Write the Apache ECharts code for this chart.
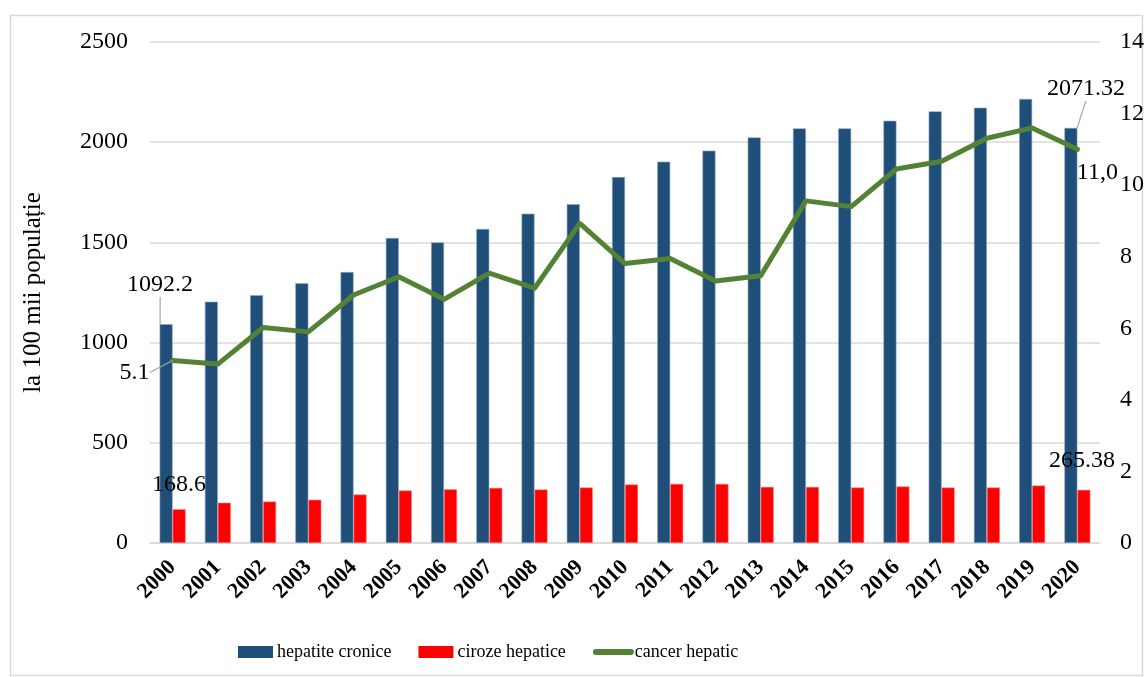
<!DOCTYPE html>
<html>
<head>
<meta charset="utf-8">
<style>
  html, body { margin: 0; padding: 0; background: #ffffff; }
  #chart { width: 1148px; height: 677px; }
</style>
<script src="https://cdn.jsdelivr.net/npm/echarts@6/dist/echarts.min.js"></script>
</head>
<body>
<div id="chart"></div>
<script>
// Years on the category axis
const years = ['2000','2001','2002','2003','2004','2005','2006','2007','2008','2009','2010',
               '2011','2012','2013','2014','2015','2016','2017','2018','2019','2020'];

// Chronic hepatitis, per 100 thousand population (left axis)
const hepatiteCronice = [1092.2, 1204, 1237, 1296, 1352, 1522, 1500, 1567, 1643, 1690, 1826,
                         1903, 1958, 2024, 2069, 2069, 2107, 2154, 2172, 2216, 2071.32];

// Liver cirrhosis, per 100 thousand population (left axis)
const cirozeHepatice = [168.6, 201, 207, 216, 242, 262, 268, 275, 267, 277, 292,
                        295, 295, 280, 280, 277, 282, 277, 277, 287, 265.38];

// Liver cancer (right axis)
const cancerHepatic = [5.1, 5.0, 6.02, 5.9, 6.93, 7.44, 6.81, 7.54, 7.12, 8.93, 7.81,
                       7.95, 7.32, 7.47, 9.56, 9.40, 10.45, 10.67, 11.31, 11.60, 11.0];

// Axis ranges
const leftAxis = { min: 0, max: 2500, interval: 500 };
const rightAxis = { min: 0, max: 14, interval: 2 };

const FONT = '"Liberation Serif", "DejaVu Serif", serif';
const LABEL_FONT = 24;
const last = years.length - 1;

// Only the first and last point of each series carry a value label
function withEndLabels(values, firstLabel, lastLabel, lastExtra) {
  return values.map((v, i) => {
    if (i === 0) return { value: v, label: Object.assign({ show: true }, firstLabel) };
    if (i === last) return Object.assign({ value: v, label: Object.assign({ show: true }, lastLabel) }, lastExtra || {});
    return v;
  });
}

const labelText = { color: '#000', fontFamily: FONT, fontSize: LABEL_FONT };
const guide = { show: true, length2: 0, lineStyle: { color: '#a6a6a6', width: 1.2 } };

const chart = echarts.init(document.getElementById('chart'));
chart.setOption({
  backgroundColor: '#ffffff',
  animation: false,
  graphic: [{
    type: 'rect',
    left: 8, top: 13,
    shape: { width: 1132, height: 660 },
    style: { fill: 'none', stroke: '#d9d9d9', lineWidth: 1.5 },
    silent: true, z: -1
  }],
  grid: { left: 150, right: 48, top: 42, bottom: 134 },
  legend: {
    left: 233, top: 638,
    itemWidth: 35, itemHeight: 12, itemGap: 27,
    textStyle: { color: '#000', fontFamily: FONT, fontSize: 18, padding: [0, 0, 0, -1] },
    data: [
      { name: 'hepatite cronice', icon: 'rect', itemStyle: { borderWidth: 0 } },
      { name: 'ciroze hepatice', icon: 'rect', itemStyle: { borderWidth: 0 } },
      { name: 'cancer hepatic', itemStyle: { opacity: 0 },
        lineStyle: { width: 6, cap: 'round', color: '#548235' } }
    ]
  },
  xAxis: {
    type: 'category',
    data: years,
    axisLine: { lineStyle: { color: '#d9d9d9', width: 1.5 } },
    axisTick: { show: false },
    axisLabel: {
      rotate: 45, interval: 0, margin: 21,
      color: '#000', fontFamily: FONT, fontSize: 22, fontWeight: 'bold'
    }
  },
  yAxis: [{
    type: 'value',
    min: leftAxis.min, max: leftAxis.max, interval: leftAxis.interval,
    name: 'la 100 mii populație',
    nameLocation: 'middle', nameGap: 104,
    nameTextStyle: { color: '#000', fontFamily: FONT, fontSize: 25 },
    axisLine: { show: false }, axisTick: { show: false },
    axisLabel: { color: '#000', fontFamily: FONT, fontSize: LABEL_FONT, margin: 22, formatter: v => String(v) },
    splitLine: { lineStyle: { color: '#d9d9d9', width: 1.5 } }
  }, {
    type: 'value',
    min: rightAxis.min, max: rightAxis.max, interval: rightAxis.interval,
    axisLine: { show: false }, axisTick: { show: false },
    axisLabel: { color: '#000', fontFamily: FONT, fontSize: LABEL_FONT, margin: 20 },
    splitLine: { show: false }
  }],
  series: [{
    name: 'hepatite cronice',
    type: 'bar',
    barWidth: 13, barGap: '0%',
    itemStyle: { color: '#1f4e79', borderColor: '#8fa9c4', borderWidth: 0.6 },
    label: labelText,
    labelLine: guide,
    labelLayout: p => {
      if (p.dataIndex === 0) return { dx: -6, dy: -22 };
      if (p.dataIndex === last) return { dx: 15, dy: -22 };
      return {};
    },
    data: withEndLabels(hepatiteCronice,
      { position: 'top', formatter: '1092.2' },
      { position: 'top', formatter: '2071.32' })
  }, {
    name: 'ciroze hepatice',
    type: 'bar',
    barWidth: 13,
    itemStyle: { color: '#ff0000', borderColor: '#ff8080', borderWidth: 0.6 },
    label: labelText,
    data: withEndLabels(cirozeHepatice,
      { position: 'top', offset: [0, -8], formatter: '168.6' },
      { position: 'top', offset: [-2, -12], formatter: '265.38' })
  }, {
    name: 'cancer hepatic',
    type: 'line',
    yAxisIndex: 1,
    symbol: 'circle',
    symbolSize: 0.01,
    showSymbol: true,
    lineStyle: { color: '#548235', width: 5, cap: 'round', join: 'round' },
    itemStyle: { color: '#548235' },
    label: labelText,
    labelLine: guide,
    labelLayout: p => {
      if (p.dataIndex === 0) return { dx: -18, dy: 12 };
      if (p.dataIndex === last) return { dx: 20, dy: 6 };
      return {};
    },
    data: withEndLabels(cancerHepatic,
      { position: 'left', formatter: '5.1' },
      { position: 'bottom', formatter: '11,0' },
      { labelLine: { show: false } }),
    z: 5
  }]
});
</script>
</body>
</html>
